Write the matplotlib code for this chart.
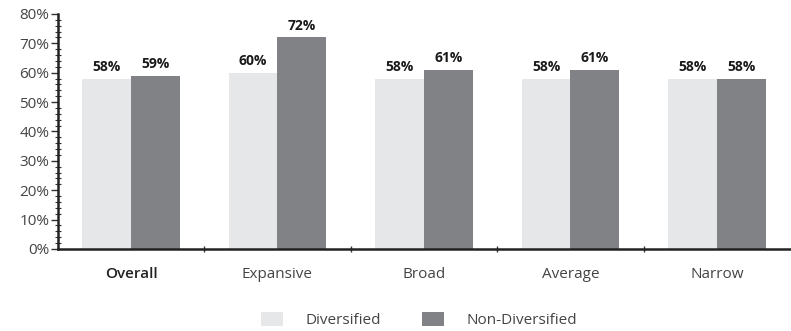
import matplotlib.pyplot as plt
import numpy as np
from matplotlib.ticker import MultipleLocator, FuncFormatter

plt.rcParams['font.family'] = ['Open Sans', 'DejaVu Sans']

categories = ["Overall", "Expansive", "Broad", "Average", "Narrow"]
diversified = [58, 60, 58, 58, 58]
non_diversified = [59, 72, 61, 61, 58]

light = "#e6e7e8"
dark = "#808285"

fig = plt.figure(figsize=(7.91, 3.31), dpi=100)
ax = fig.add_axes([0.073, 0.248, 0.926, 0.71])

x = np.arange(len(categories))
w = 0.333
b1 = ax.bar(x - w / 2, diversified, w, color=light, label="Diversified")
b2 = ax.bar(x + w / 2, non_diversified, w, color=dark, label="Non-Diversified")

for bars, vals in [(b1, diversified), (b2, non_diversified)]:
    for bar, v in zip(bars, vals):
        ax.text(bar.get_x() + bar.get_width() / 2, v + 1.5, f"{v}%",
                ha="center", va="bottom", fontsize=10, fontweight="bold", color="#1a1a1a")

ax.set_xlim(-0.5, 4.5)
ax.set_ylim(0, 80)
ax.yaxis.set_major_locator(MultipleLocator(10))
ax.yaxis.set_minor_locator(MultipleLocator(2))
ax.yaxis.set_major_formatter(FuncFormatter(lambda v, p: f"{int(v)}%"))
ax.set_xticks(np.arange(0.5, 4.5, 1))
ax.set_xticklabels([])
ax.tick_params(axis="x", length=5, width=1, color="#333333", direction="inout")
ax.tick_params(axis="y", which="major", length=5, width=1, color="#333333", direction="out",
               labelsize=11, labelcolor="#444444", pad=1)
ax.tick_params(axis="y", which="minor", length=5, width=0.8, color="#333333", direction="inout")

for i, c in enumerate(categories):
    ax.text(i, -6, c, ha="center", va="top", fontsize=11,
            color="#222222" if c == "Overall" else "#444444",
            fontweight="semibold" if c == "Overall" else "normal")

for s in ["top", "right"]:
    ax.spines[s].set_visible(False)
for s in ["left", "bottom"]:
    ax.spines[s].set_linewidth(1.8)
    ax.spines[s].set_color("#222222")

fig.legend(handles=[b1, b2], loc="lower left", bbox_to_anchor=(0.33, 0.008), ncol=2,
           frameon=False, fontsize=11, handlelength=1.45, handleheight=1.0,
           columnspacing=2.7, handletextpad=1.45, labelcolor="#444444",
           borderpad=0, borderaxespad=0)

fig.savefig("out.png", dpi=100)
